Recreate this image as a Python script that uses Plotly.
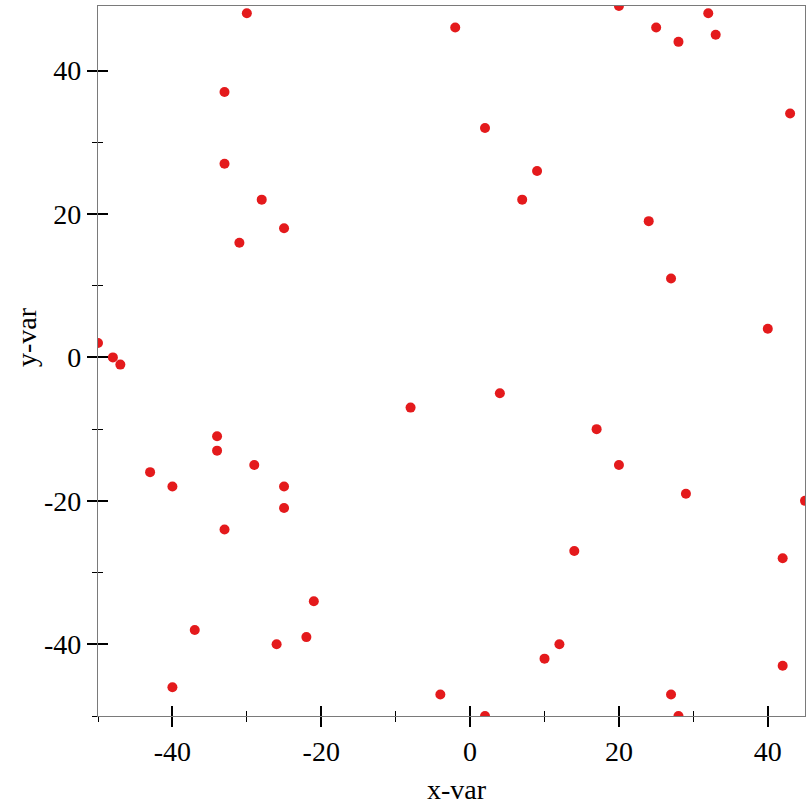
import plotly.graph_objects as go

x_vals = [-30, -2, 20, 25, 28, 32, 33, -33, 2, 43, -33, 9, -28, 7, 24, -25, -31, 27, 40,
          -50, -48, -47, 4, -8, -34, 17, -34, -29, 20, -43, -40, -25, 29, 45, -25, -33,
          14, 42, -21, -37, -22, -26, 12, 10, 42, -40, -4, 27, 2, 28]
y_vals = [48, 46, 49, 46, 44, 48, 45, 37, 32, 34, 27, 26, 22, 22, 19, 18, 16, 11, 4,
          2, 0, -1, -5, -7, -11, -10, -13, -15, -15, -16, -18, -18, -19, -20, -21, -24,
          -27, -28, -34, -38, -39, -40, -40, -42, -43, -46, -47, -47, -50, -50]

x_range = [-50, 45]
y_range = [-50, 49]
x_ticks = [-40, -20, 0, 20, 40]
x_tick_labels = ["-40", "-20", "0", "20", "40"]
y_ticks = [-40, -20, 0, 20, 40]
y_tick_labels = ["-40", "-20", "0", "20", "40"]
x_title = "x-var"
y_title = "y-var"

FONT = "Liberation Serif, Times New Roman, serif"
W, H = 812, 812
ML, MR, MT, MB = 97.5, 6.5, 6, 96
PW, PH = W - ML - MR, H - MT - MB

fig = go.Figure()
fig.add_trace(go.Scatter(
    x=x_vals, y=y_vals, mode="markers",
    marker=dict(size=10, color="#e41a1c", line=dict(width=0)),
    cliponaxis=True, showlegend=False,
))
# invisible trace to activate overlay axes (inside half of the crossing ticks)
fig.add_trace(go.Scatter(x=x_vals[:1], y=y_vals[:1], xaxis="x2", yaxis="y2",
                         mode="markers", marker=dict(opacity=0), hoverinfo="skip",
                         showlegend=False))

common = dict(showgrid=False, zeroline=False, showline=True, linecolor="#7a7a7a",
              linewidth=1.2, tickcolor="black", tickwidth=1.5, ticklen=10)

def minor(side):
    return dict(ticks=side, ticklen=5, dtick=10, tick0=0, tickcolor="black", tickwidth=1)

fig.update_layout(
    width=W, height=H,
    margin=dict(l=ML, r=MR, t=MT, b=MB, autoexpand=False),
    paper_bgcolor="white", plot_bgcolor="white",
    font=dict(family=FONT, size=28, color="black"),
    xaxis=dict(range=x_range, tickvals=x_ticks, ticktext=x_tick_labels,
               ticks="outside", mirror=True, tickfont=dict(family=FONT, size=28),
               minor=minor("outside"), **common),
    yaxis=dict(range=y_range, tickvals=y_ticks, ticktext=y_tick_labels,
               ticks="outside", mirror=True, tickfont=dict(family=FONT, size=28),
               minor=minor("outside"), **common),
    xaxis2=dict(range=x_range, tickvals=x_ticks, ticks="inside", overlaying="x",
                side="bottom", anchor="y2", showticklabels=False,
                minor=minor("inside"), **common),
    yaxis2=dict(range=y_range, tickvals=y_ticks, ticks="inside", overlaying="y",
                side="left", anchor="x2", showticklabels=False,
                minor=minor("inside"), **common),
    annotations=[
        dict(text=x_title, xref="paper", yref="paper",
             x=(457.5 - ML) / PW, y=(MT + PH - 789) / PH,
             xanchor="center", yanchor="middle", showarrow=False,
             font=dict(family=FONT, size=28)),
        dict(text=y_title, xref="paper", yref="paper",
             x=(26 - ML) / PW, y=(MT + PH - 337.5) / PH,
             xanchor="center", yanchor="middle", showarrow=False, textangle=-90,
             font=dict(family=FONT, size=28)),
    ],
)

fig.write_html("out.html", config={"displayModeBar": False},
               post_script="document.body.style.margin='0px';")
